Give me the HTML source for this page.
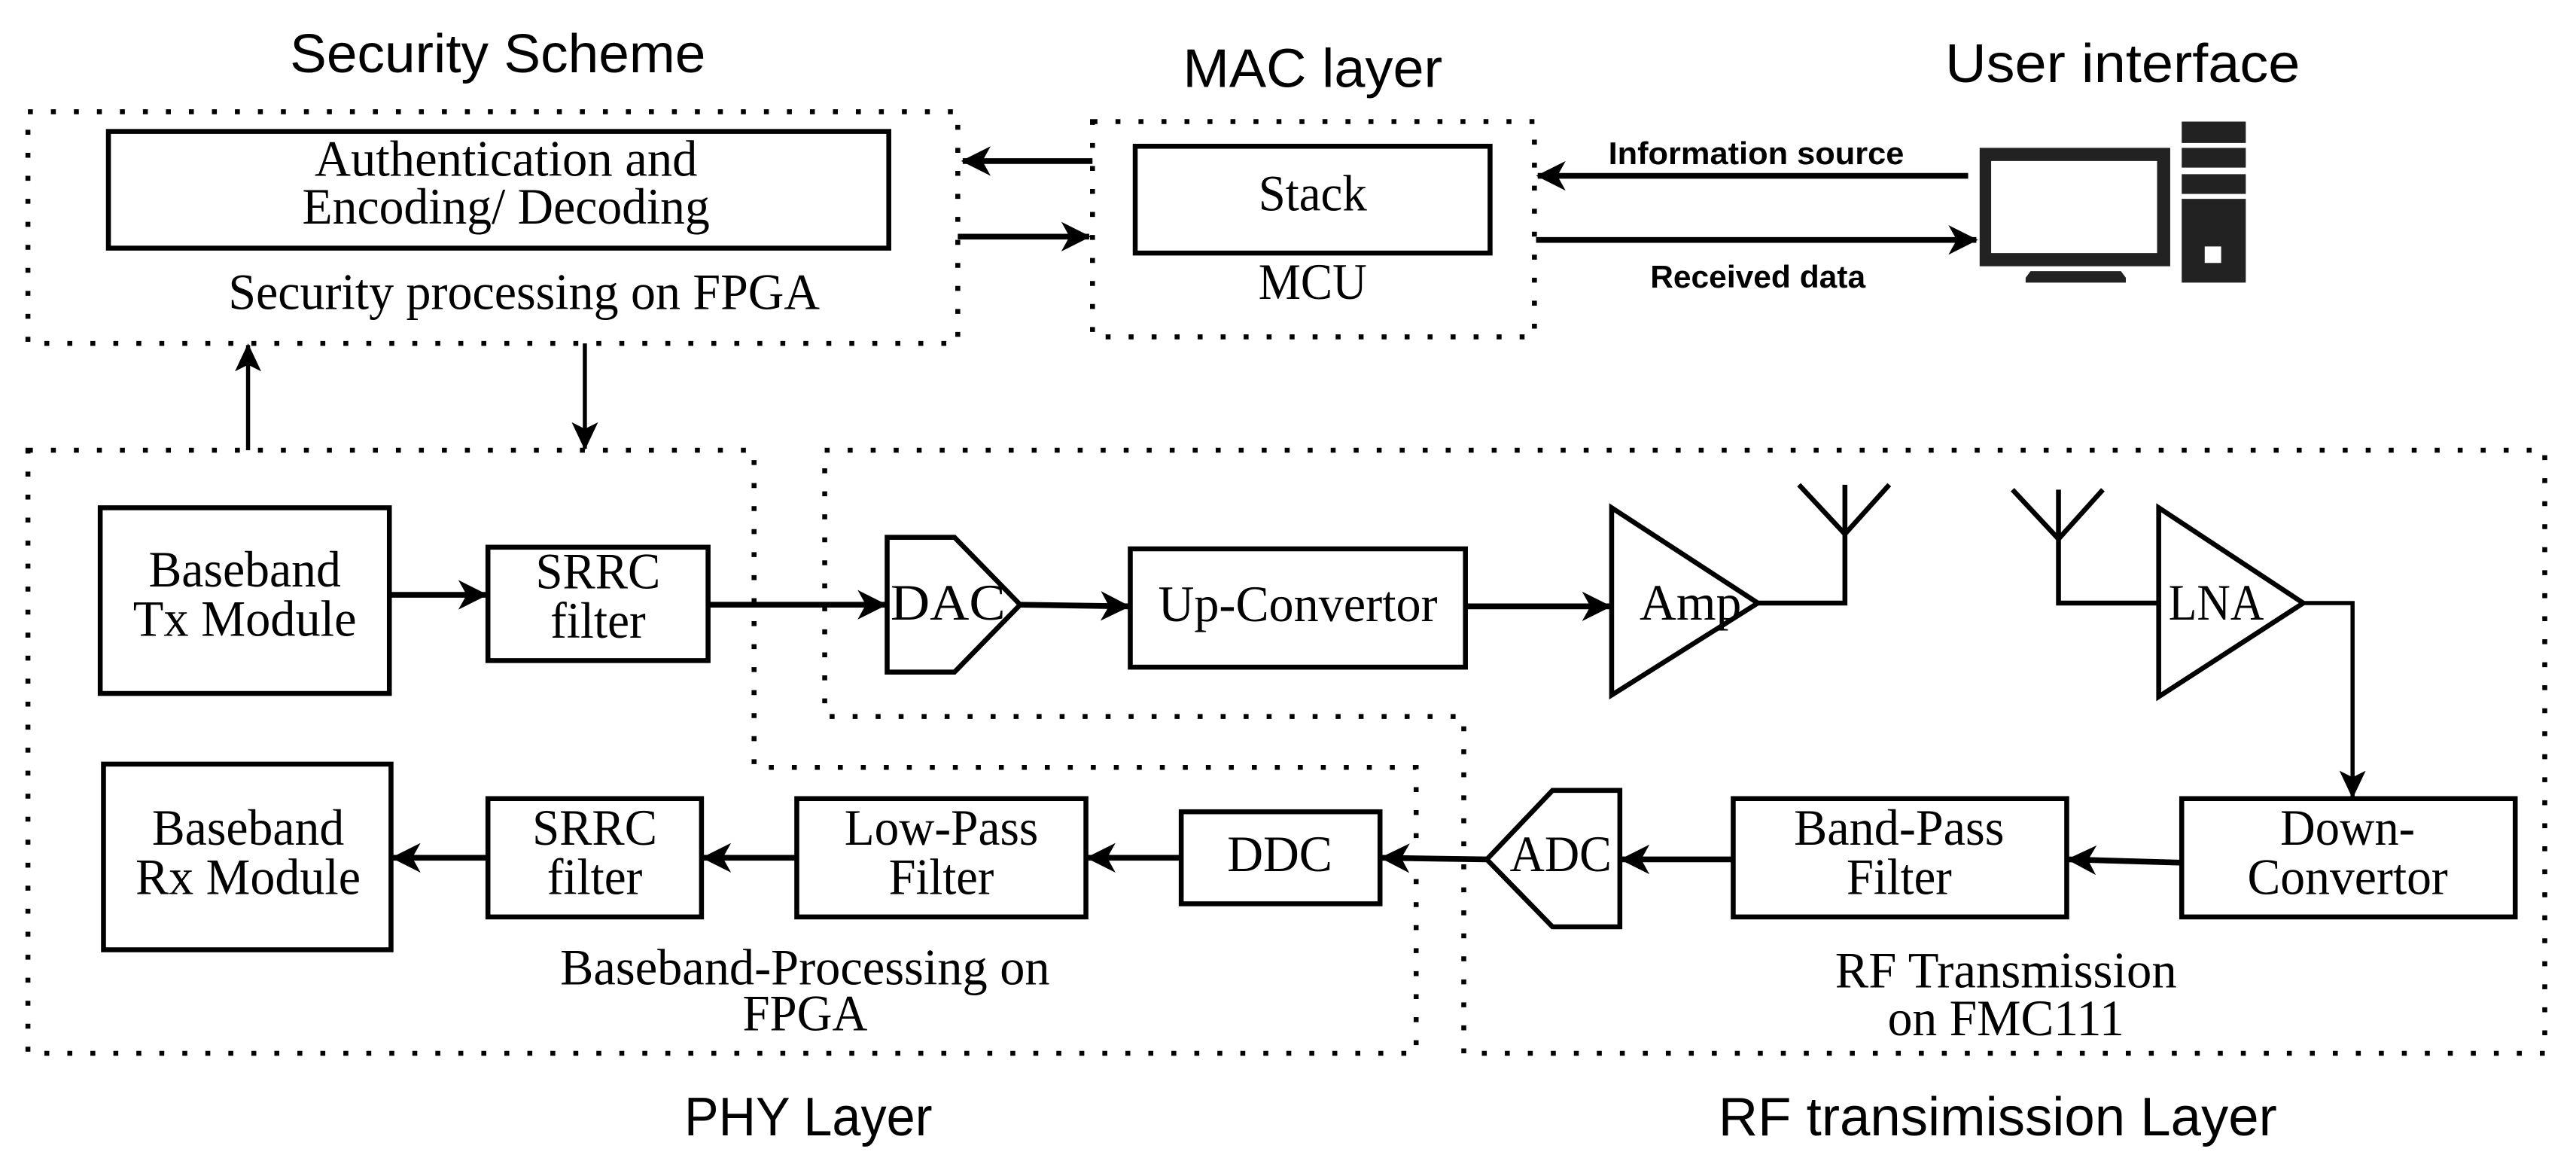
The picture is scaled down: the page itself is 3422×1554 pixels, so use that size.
<!DOCTYPE html>
<html><head><meta charset="utf-8"><style>
html,body{margin:0;padding:0;background:#fff;}
svg{display:block;}
.s{font-family:"Liberation Serif",serif;fill:#000;}
.a{font-family:"Liberation Sans",sans-serif;fill:#000;}
</style></head><body>
<svg width="3422" height="1554" viewBox="0 0 1568 712" preserveAspectRatio="none" xmlns="http://www.w3.org/2000/svg">
<defs>
<marker id="ah" markerUnits="userSpaceOnUse" markerWidth="20" markerHeight="20" refX="17" refY="9" orient="auto">
<path d="M0,0 L18,9 L0,18 L5,9 z" fill="#000"/></marker>
<marker id="ah2" markerUnits="userSpaceOnUse" markerWidth="20" markerHeight="24" refX="16" refY="8" orient="auto">
<path d="M0,0 L17,8 L0,16 L4,8 z" fill="#000"/></marker>
</defs>
<rect width="1568" height="712" fill="#fff"/>
<g fill="none" stroke="#000" stroke-width="3" stroke-dasharray="3 11">
<rect x="17" y="68" width="566" height="141"/>
<rect x="665" y="74" width="269" height="131"/>
<path d="M17,274 H459 V467 H862 V641 H17 Z"/>
<path d="M502,274 H1549 V641 H891 V436 H502 Z"/>
</g>
<text class="a" x="303" y="44" font-size="33" text-anchor="middle" textLength="253" lengthAdjust="spacingAndGlyphs">Security Scheme</text>
<text class="a" x="799" y="53" font-size="33" text-anchor="middle" textLength="158" lengthAdjust="spacingAndGlyphs">MAC layer</text>
<text class="a" x="1292" y="50" font-size="33" text-anchor="middle" textLength="216" lengthAdjust="spacingAndGlyphs">User interface</text>
<text class="a" x="492" y="691" font-size="33" text-anchor="middle" textLength="151" lengthAdjust="spacingAndGlyphs">PHY Layer</text>
<text class="a" x="1216" y="691" font-size="33" text-anchor="middle" textLength="340" lengthAdjust="spacingAndGlyphs">RF transimission Layer</text>
<g fill="#fff" stroke="#000" stroke-width="3">
<rect x="66" y="80" width="475" height="71"/>
<rect x="691" y="89" width="216" height="65"/>
<rect x="61" y="309" width="176" height="113"/>
<rect x="297" y="333" width="134" height="69"/>
<polygon points="540,327 581,327 621,368 581,409 540,409"/>
<rect x="688" y="334" width="204" height="72"/>
<polygon points="981,309 1070,367 981,423"/>
<polygon points="1314,309 1402,367 1314,424"/>
<rect x="63" y="465" width="175" height="113"/>
<rect x="297" y="486" width="130" height="72"/>
<rect x="485" y="486" width="176" height="72"/>
<rect x="719" y="494" width="121" height="56"/>
<polygon points="905,523 945,481 986,481 986,564 945,564"/>
<rect x="1055" y="486" width="203" height="72"/>
<rect x="1328" y="486" width="203" height="72"/>
</g>
<g fill="none" stroke="#000" stroke-width="3">
<path d="M1070,367 H1123 V295 M1123,325 L1095,295 M1123,325 L1150,295"/>
<path d="M1314,367 H1253 V298 M1253,328 L1225,298 M1253,328 L1280,298"/>
</g>
<g stroke="#000" stroke-width="3.5" fill="none" marker-end="url(#ah)">
<line x1="665" y1="98" x2="586" y2="98"/>
<line x1="583" y1="144" x2="663" y2="144"/>
<line x1="1198" y1="107" x2="936" y2="107"/>
<line x1="935" y1="146" x2="1203" y2="146"/>
<line x1="237" y1="362" x2="296" y2="362"/>
<line x1="431" y1="368" x2="539" y2="368"/>
<line x1="621" y1="368" x2="687" y2="369"/>
<line x1="892" y1="369" x2="980" y2="369"/>
<line x1="297" y1="522" x2="239" y2="522"/>
<line x1="485" y1="522" x2="428" y2="522"/>
<line x1="719" y1="522" x2="662" y2="522"/>
<line x1="905" y1="523" x2="841" y2="522"/>
<line x1="1055" y1="523" x2="987" y2="523"/>
<line x1="1328" y1="525" x2="1259" y2="523"/>
</g>
<g stroke="#000" stroke-width="2.5" fill="none" marker-end="url(#ah2)">
<line x1="151" y1="274" x2="151" y2="210"/>
<line x1="356" y1="209" x2="356" y2="273"/>
<path d="M1402,367 H1432 V485"/>
</g>
<g fill="#222">
<path d="M1205,90 H1321 V162 H1205 Z M1212,98 V154 H1313 V98 Z" fill-rule="evenodd"/>
<path d="M1236,165 H1291 L1294,169 V172 H1233 V169 Z"/>
<rect x="1328" y="74" width="39" height="13"/>
<rect x="1328" y="90" width="39" height="12"/>
<rect x="1328" y="106" width="39" height="12"/>
<path d="M1328,121 H1367 V172 H1328 Z M1342,150 V160 H1352 V150 Z" fill-rule="evenodd"/>
</g>
<g class="s" font-size="31" text-anchor="middle">
<text x="308" y="107" textLength="233" lengthAdjust="spacingAndGlyphs">Authentication and</text>
<text x="308" y="136" textLength="248" lengthAdjust="spacingAndGlyphs">Encoding/ Decoding</text>
<text x="319" y="188" textLength="360" lengthAdjust="spacingAndGlyphs">Security processing on FPGA</text>
<text x="799" y="128" textLength="66" lengthAdjust="spacingAndGlyphs">Stack</text>
<text x="799" y="182" textLength="66" lengthAdjust="spacingAndGlyphs">MCU</text>
<text x="149" y="357" textLength="117" lengthAdjust="spacingAndGlyphs">Baseband</text>
<text x="149" y="387" textLength="136" lengthAdjust="spacingAndGlyphs">Tx Module</text>
<text x="364" y="358" textLength="76" lengthAdjust="spacingAndGlyphs">SRRC</text>
<text x="364" y="388" textLength="58" lengthAdjust="spacingAndGlyphs">filter</text>
<text x="577" y="377" textLength="70" lengthAdjust="spacingAndGlyphs">DAC</text>
<text x="790" y="378" textLength="170" lengthAdjust="spacingAndGlyphs">Up-Convertor</text>
<text x="1029" y="377" textLength="62" lengthAdjust="spacingAndGlyphs">Amp</text>
<text x="1349" y="377" textLength="58" lengthAdjust="spacingAndGlyphs">LNA</text>
<text x="151" y="514" textLength="117" lengthAdjust="spacingAndGlyphs">Baseband</text>
<text x="151" y="544" textLength="137" lengthAdjust="spacingAndGlyphs">Rx Module</text>
<text x="362" y="514" textLength="76" lengthAdjust="spacingAndGlyphs">SRRC</text>
<text x="362" y="544" textLength="58" lengthAdjust="spacingAndGlyphs">filter</text>
<text x="573" y="514" textLength="118" lengthAdjust="spacingAndGlyphs">Low-Pass</text>
<text x="573" y="544" textLength="64" lengthAdjust="spacingAndGlyphs">Filter</text>
<text x="779" y="530" textLength="64" lengthAdjust="spacingAndGlyphs">DDC</text>
<text x="950" y="530" textLength="62" lengthAdjust="spacingAndGlyphs">ADC</text>
<text x="1156" y="514" textLength="128" lengthAdjust="spacingAndGlyphs">Band-Pass</text>
<text x="1156" y="544" textLength="64" lengthAdjust="spacingAndGlyphs">Filter</text>
<text x="1429" y="514" textLength="82" lengthAdjust="spacingAndGlyphs">Down-</text>
<text x="1429" y="544" textLength="122" lengthAdjust="spacingAndGlyphs">Convertor</text>
<text x="490" y="599" textLength="298" lengthAdjust="spacingAndGlyphs">Baseband-Processing on</text>
<text x="490" y="627" textLength="76" lengthAdjust="spacingAndGlyphs">FPGA</text>
<text x="1221" y="601" textLength="208" lengthAdjust="spacingAndGlyphs">RF Transmission</text>
<text x="1221" y="630" textLength="144" lengthAdjust="spacingAndGlyphs">on FMC111</text>
</g>
<text class="a" x="1069" y="100" font-size="19" font-weight="bold" text-anchor="middle" textLength="180" lengthAdjust="spacingAndGlyphs">Information source</text>
<text class="a" x="1070" y="175" font-size="19" font-weight="bold" text-anchor="middle" textLength="131" lengthAdjust="spacingAndGlyphs">Received data</text>
</svg>
</body></html>
